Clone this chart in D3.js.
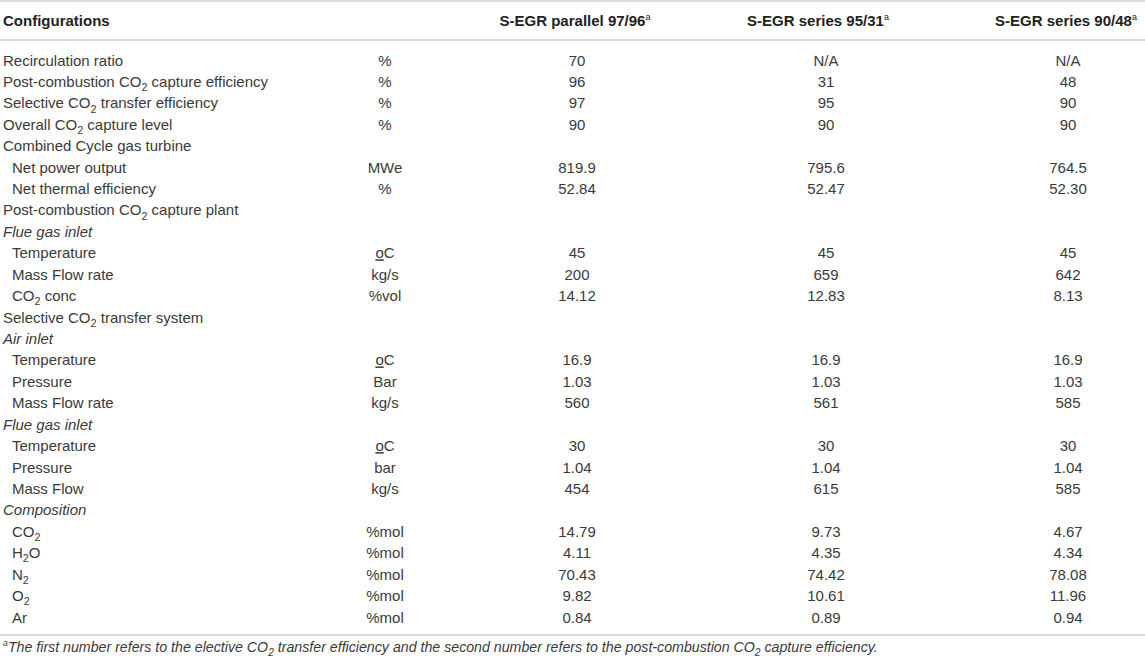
<!DOCTYPE html>
<html>
<head>
<meta charset="utf-8">
<script src="https://cdn.jsdelivr.net/npm/d3@7"></script>
<style>
  body { margin: 0; background: #fff; }
  svg { display: block; font-family: "Liberation Sans", Arial, sans-serif; }
</style>
</head>
<body>
<div id="chart"></div>
<script>
// Table content ("~2" marks a subscript 2, "_o" an underlined o)
const headers = ["Configurations", "S-EGR parallel 97/96", "S-EGR series 95/31", "S-EGR series 90/48"];

const labels = [
  "Recirculation ratio", "Post-combustion CO~2 capture efficiency", "Selective CO~2 transfer efficiency",
  "Overall CO~2 capture level", "Combined Cycle gas turbine", "Net power output", "Net thermal efficiency",
  "Post-combustion CO~2 capture plant", "Flue gas inlet", "Temperature", "Mass Flow rate", "CO~2 conc",
  "Selective CO~2 transfer system", "Air inlet", "Temperature", "Pressure", "Mass Flow rate",
  "Flue gas inlet", "Temperature", "Pressure", "Mass Flow", "Composition",
  "CO~2", "H~2O", "N~2", "O~2", "Ar"
];

// 0 = top level, 1 = sub item, 2 = italic sub heading
const rowLevel = [0, 0, 0, 0, 0, 1, 1, 0, 2, 1, 1, 1, 0, 2, 1, 1, 1, 2, 1, 1, 1, 2, 1, 1, 1, 1, 1];

const units = [
  "%", "%", "%", "%", "", "MWe", "%", "", "", "_oC", "kg/s", "%vol", "", "", "_oC", "Bar", "kg/s",
  "", "_oC", "bar", "kg/s", "", "%mol", "%mol", "%mol", "%mol", "%mol"
];

const parallel9796 = ["70", "96", "97", "90", "", "819.9", "52.84", "", "", "45", "200", "14.12", "", "",
  "16.9", "1.03", "560", "", "30", "1.04", "454", "", "14.79", "4.11", "70.43", "9.82", "0.84"];
const series9531 = ["N/A", "31", "95", "90", "", "795.6", "52.47", "", "", "45", "659", "12.83", "", "",
  "16.9", "1.03", "561", "", "30", "1.04", "615", "", "9.73", "4.35", "74.42", "10.61", "0.89"];
const series9048 = ["N/A", "48", "90", "90", "", "764.5", "52.30", "", "", "45", "642", "8.13", "", "",
  "16.9", "1.03", "585", "", "30", "1.04", "585", "", "4.67", "4.34", "78.08", "11.96", "0.94"];

const footnote = "^aThe first number refers to the elective CO~2 transfer efficiency and the second number refers to the post-combustion CO~2 capture efficiency.";

const width = 1145, height = 661;
const textColor = "#3a3a3a", lineColor = "#cfcfcf";

const svg = d3.select("#chart").append("svg")
  .attr("width", width)
  .attr("height", height);

// Row positions
const y = d3.scaleLinear().domain([0, labels.length - 1]).range([60, 617]);

// Column centres
const columns = ["unit", "c1", "c2", "c3"];
const x = d3.scaleOrdinal().domain(columns).range([385, 577, 826, 1068]);
const headerX = d3.scaleOrdinal().domain(headers.slice(1)).range([575, 818, 1066]);

// write text with ~2 subscripts, ^a superscripts and _o underlines
function rich(sel, str, size) {
  const parts = str.split(/(~2|\^a|_o)/).filter(p => p !== "");
  let shift = 0;
  parts.forEach(p => {
    const ts = sel.append("tspan");
    let target = 0;
    if (p === "~2") {
      target = size * 0.28;
      ts.attr("font-size", size * 0.72).text("2");
    } else if (p === "^a") {
      target = -size * 0.4;
      ts.attr("font-size", size * 0.62).attr("font-style", "italic").text("a");
    } else if (p === "_o") {
      ts.attr("text-decoration", "underline").text("o");
    } else {
      ts.text(p);
    }
    if (target - shift !== 0) ts.attr("dy", target - shift);
    shift = target;
  });
}

// Rules
[1, 40, 635].forEach(ly => {
  svg.append("line")
    .attr("x1", 0).attr("x2", width)
    .attr("y1", ly).attr("y2", ly)
    .attr("stroke", lineColor)
    .attr("stroke-width", 1.5);
});

// Header
svg.append("text")
  .attr("x", 3).attr("y", 25.5)
  .attr("font-size", 15).attr("font-weight", "bold").attr("fill", "#222")
  .text(headers[0]);

headers.slice(1).forEach(h => {
  const t = svg.append("text")
    .attr("x", headerX(h)).attr("y", 25.5)
    .attr("text-anchor", "middle")
    .attr("font-size", 15).attr("font-weight", "bold").attr("fill", "#222");
  t.append("tspan").text(h);
  t.append("tspan").attr("font-size", 9).attr("font-weight", "normal").attr("dy", -6).text("a");
});

// Body rows
const rows = labels.map((l, i) => ({
  label: l, level: rowLevel[i], unit: units[i],
  c1: parallel9796[i], c2: series9531[i], c3: series9048[i]
}));

const g = svg.append("g")
  .attr("font-size", 15)
  .attr("fill", textColor);

rows.forEach((r, i) => {
  const lt = g.append("text")
    .attr("x", r.level === 1 ? 12 : 3)
    .attr("y", y(i) + 5.5)
    .attr("font-style", r.level === 2 ? "italic" : null);
  rich(lt, r.label, 15);

  columns.forEach(c => {
    const v = c === "unit" ? r.unit : r[c];
    if (!v) return;
    const t = g.append("text")
      .attr("x", x(c)).attr("y", y(i) + 5.5)
      .attr("text-anchor", "middle");
    rich(t, v, 15);
  });
});

// Footnote
const fn = svg.append("text")
  .attr("x", 3).attr("y", 652)
  .attr("font-size", 14.2).attr("font-style", "italic").attr("fill", textColor);
rich(fn, footnote, 14.2);
</script>
</body>
</html>
